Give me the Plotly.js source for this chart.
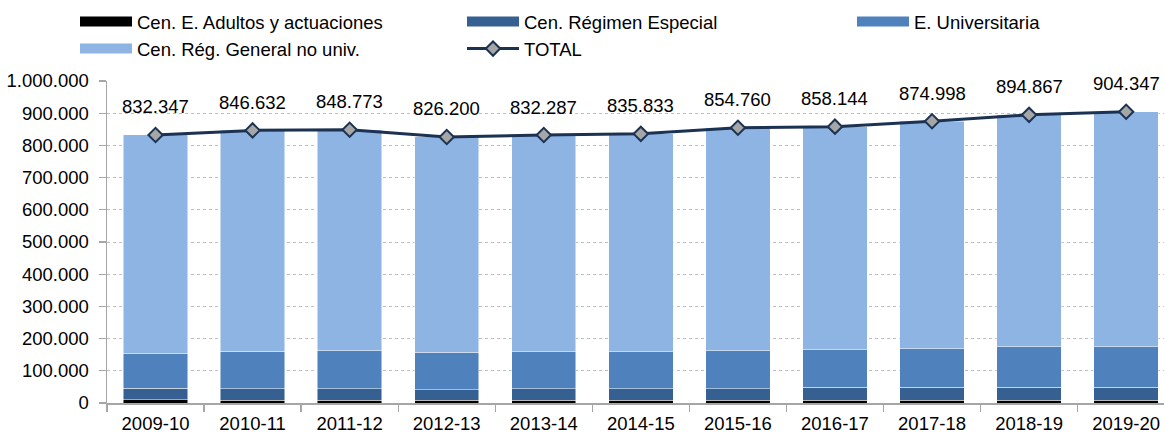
<!DOCTYPE html>
<html>
<head>
<meta charset="utf-8">
<script src="https://cdn.plot.ly/plotly-3.0.1.min.js"></script>
<style>
  html, body { margin: 0; padding: 0; background: #ffffff; }
  #chart { width: 1164px; height: 436px; }
</style>
</head>
<body>
<div id="chart"></div>
<script>
// ---- Data ----
const categories = ["2009-10", "2010-11", "2011-12", "2012-13", "2013-14", "2014-15",
                    "2015-16", "2016-17", "2017-18", "2018-19", "2019-20"];
const adultos = [10000, 8000, 8000, 8000, 8000, 8000, 8000, 8000, 8000, 8000, 8000];
const especial = [36000, 36000, 36000, 33000, 37000, 37000, 37000, 41000, 41000, 41000, 41000];
const universitaria = [109000, 116000, 118000, 116000, 114000, 114000, 118000, 116000, 119000, 125000, 125000];
const total = [832347, 846632, 848773, 826200, 832287, 835833, 854760, 858144, 874998, 894867, 904347];
// Cen. Rég. General no univ. = remainder of the total
const general = [677347, 686632, 686773, 669200, 673287, 676833, 691760, 693144, 706998, 720867, 730347];

const seriesNames = ["Cen. E. Adultos y actuaciones", "Cen. Régimen Especial", "E. Universitaria",
                     "Cen. Rég. General no univ.", "TOTAL"];
const yTicks = [0, 100000, 200000, 300000, 400000, 500000, 600000, 700000, 800000, 900000, 1000000];

function fmt(v) {
  return String(Math.round(v)).replace(/\B(?=(\d{3})+(?!\d))/g, ".");
}

const FONT = "Liberation Sans, Arial, sans-serif";
const barLine = { color: "rgba(255,255,255,0.6)", width: 0.8 };
const barSeries = [
  { name: seriesNames[0], y: adultos, color: "#000000", legend: "legend" },
  { name: seriesNames[1], y: especial, color: "#376092", legend: "legend2" },
  { name: seriesNames[2], y: universitaria, color: "#4f81bd", legend: "legend3" },
  { name: seriesNames[3], y: general, color: "#8eb4e3", legend: "legend" }
];

// Stacked bars (legend entries are drawn by the keys below, as flat swatches)
const traces = barSeries.map(s => ({
  type: "bar", name: s.name, x: categories, y: s.y, showlegend: false,
  marker: { color: s.color, line: barLine }
}));
// Legend keys: wide flat swatches like the reference (no data drawn)
barSeries.forEach(s => traces.push({
  type: "scatter", mode: "lines", name: s.name, x: [categories[0]], y: [null],
  legend: s.legend, hoverinfo: "skip",
  line: { color: s.color, width: 10 }
}));
traces.push({
  type: "scatter", mode: "lines+markers", name: seriesNames[4], x: categories, y: total,
  legend: "legend2",
  line: { color: "#1b3252", width: 3 },
  marker: { symbol: "diamond", size: 11, color: "#a6a6a6", line: { color: "#1b3252", width: 2 } }
});

const annotations = categories.map((c, i) => ({
  x: c, y: total[i], xref: "x", yref: "y",
  text: fmt(total[i]), showarrow: false,
  yanchor: "middle", yshift: 28,
  font: { family: FONT, size: 18.5, color: "#000000" }
}));

function legendAt(px) {
  return {
    orientation: "v", traceorder: "normal",
    xref: "container", yref: "container",
    x: px / 1164, xanchor: "left",
    y: 1 - 3 / 436, yanchor: "top",
    itemwidth: 52, tracegroupgap: 0,
    font: { family: FONT, size: 18.5, color: "#000000" },
    bgcolor: "rgba(0,0,0,0)", borderwidth: 0
  };
}

const layout = {
  width: 1164, height: 436,
  margin: { l: 107, r: 0, t: 81, b: 32.5, autoexpand: false },
  paper_bgcolor: "#ffffff", plot_bgcolor: "#ffffff",
  separators: ",.",
  barmode: "stack",
  bargap: 0.337,
  font: { family: FONT, size: 18.5, color: "#000000" },
  showlegend: true,
  legend: legendAt(75),
  legend2: legendAt(462),
  legend3: legendAt(852),
  xaxis: {
    type: "category",
    range: [-0.5, 10.39],
    showline: true, linecolor: "#a6a6a6", linewidth: 1.5,
    ticks: "outside", tickson: "boundaries", ticklen: 7, tickcolor: "#a6a6a6", tickwidth: 1.3,
    ticklabelstandoff: 3,
    showgrid: false, zeroline: false,
    tickfont: { family: FONT, size: 18.5, color: "#000000" }
  },
  yaxis: {
    range: [0, 1000000],
    tickmode: "array", tickvals: yTicks, ticktext: yTicks.map(fmt),
    showline: true, linecolor: "#a6a6a6", linewidth: 1.5,
    ticks: "outside", ticklen: 7, tickcolor: "#a6a6a6", tickwidth: 1.3,
    ticklabelstandoff: 6,
    showgrid: true, gridcolor: "#bfbfbf", gridwidth: 1, griddash: "dot",
    zeroline: false,
    tickfont: { family: FONT, size: 18.5, color: "#000000" }
  },
  annotations: annotations
};

Plotly.newPlot("chart", traces, layout, { displayModeBar: false, staticPlot: true });
</script>
</body>
</html>
